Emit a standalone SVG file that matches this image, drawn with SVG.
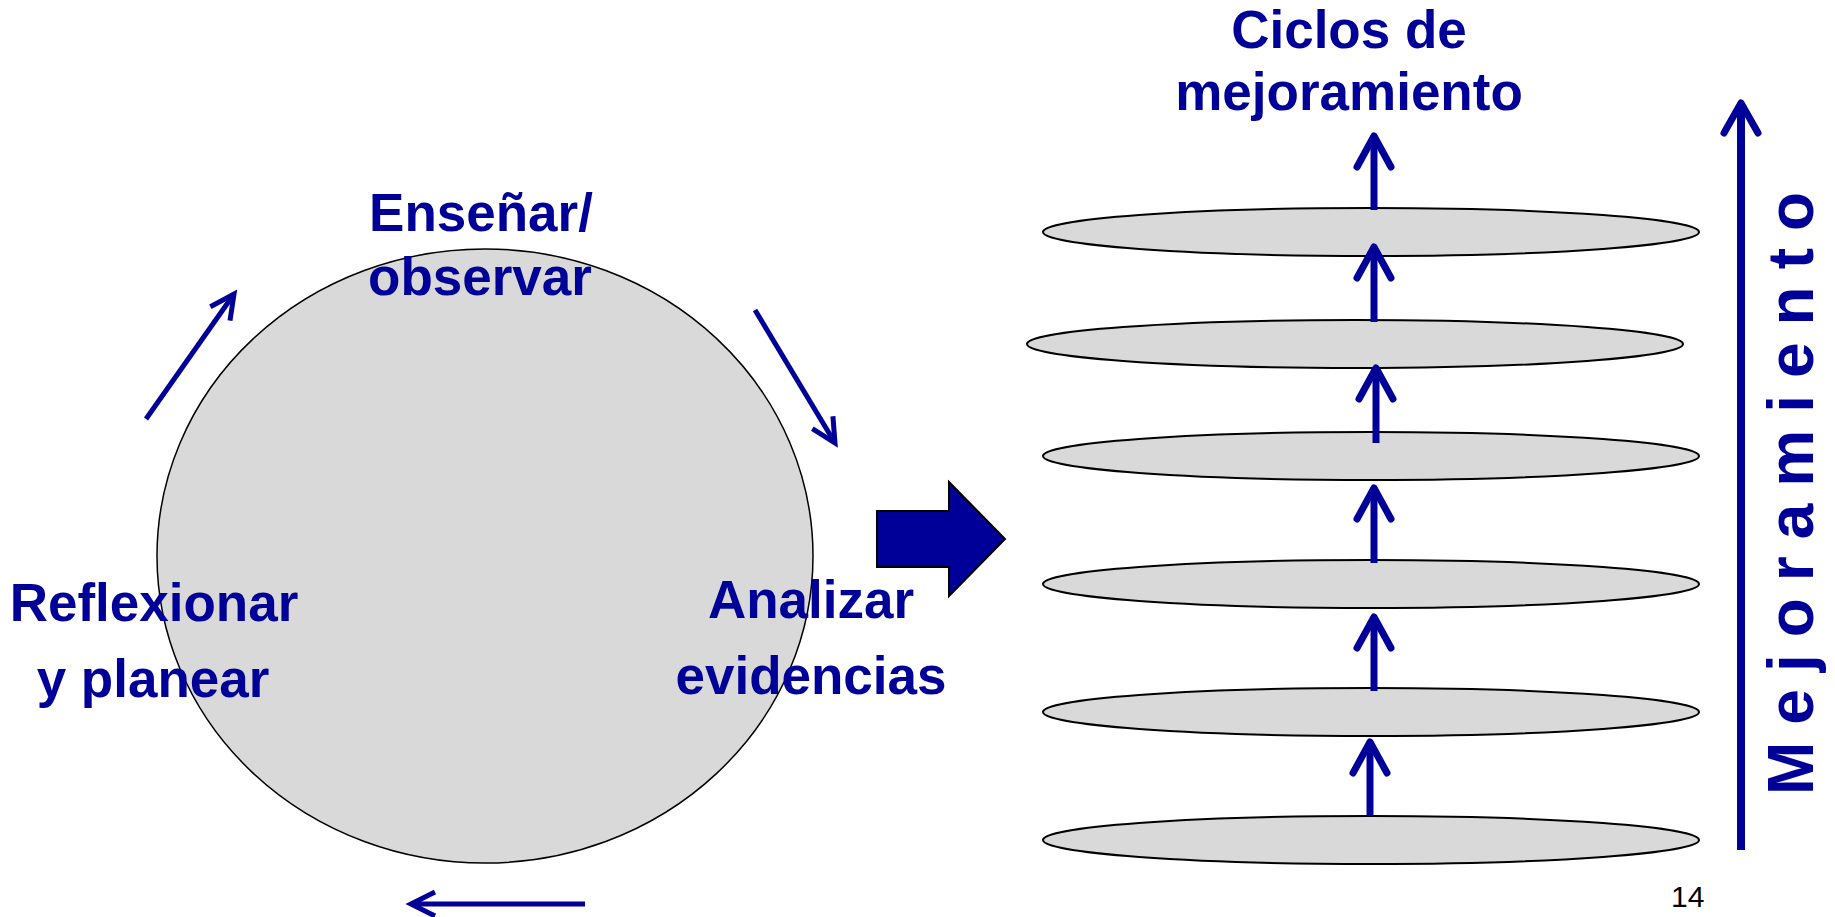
<svg xmlns="http://www.w3.org/2000/svg" width="1835" height="917" viewBox="0 0 1835 917">
<style>
.lbl{font-family:"Liberation Sans",Arial,sans-serif;font-weight:bold;font-size:53px;fill:#000099;text-anchor:middle}
.disc{fill:#d9d9d9;stroke:#000;stroke-width:2}
.thin{fill:none;stroke:#000099;stroke-width:5}
.up{fill:none;stroke:#000099;stroke-width:7}
.big{fill:none;stroke:#000099;stroke-width:8}
</style>
<defs>
<marker id="hThin" markerUnits="userSpaceOnUse" orient="auto" refX="0" refY="0" markerWidth="60" markerHeight="60" viewBox="-30 -30 60 60" overflow="visible">
<path d="M-24,-12 L0,0 L-24,12" fill="none" stroke="#000099" stroke-width="5"/>
</marker>
<marker id="hUp" markerUnits="userSpaceOnUse" orient="auto" refX="0" refY="0" markerWidth="80" markerHeight="80" viewBox="-40 -40 80 80" overflow="visible">
<path d="M-31,-17 L0,0 L-31,17" fill="none" stroke="#000099" stroke-width="7" stroke-linecap="round" stroke-linejoin="round"/>
</marker>
<marker id="hBig" markerUnits="userSpaceOnUse" orient="auto" refX="0" refY="0" markerWidth="80" markerHeight="80" viewBox="-40 -40 80 80" overflow="visible">
<path d="M-30,-17 L0,0 L-30,17" fill="none" stroke="#000099" stroke-width="7" stroke-linecap="round" stroke-linejoin="round"/>
</marker>
</defs>
<rect width="1835" height="917" fill="#fff"/>

<g id="cycle">
<ellipse cx="485" cy="556" rx="328" ry="307" fill="#d9d9d9" stroke="#000" stroke-width="1.5"/>
</g>
<g id="ensenar">
<text class="lbl" x="481" y="231">Enseñar/</text>
<text class="lbl" x="480" y="295">observar</text>
</g>
<g id="reflexionar">
<text class="lbl" x="154" y="621">Reflexionar</text>
<text class="lbl" x="153" y="697">y planear</text>
</g>
<g id="analizar">
<text class="lbl" x="811" y="618">Analizar</text>
<text class="lbl" x="811" y="694">evidencias</text>
</g>
<g id="block-arrow">
<polygon points="877,511 949,511 949,482 1005,539 949,596 949,567 877,567" fill="#000099" stroke="#000" stroke-width="2"/>
</g>
<g id="ciclos-title">
<text class="lbl" x="1349" y="48">Ciclos de</text>
<text class="lbl" x="1349" y="110">mejoramiento</text>
</g>
<g id="cycle-1"><ellipse class="disc" cx="1371" cy="232" rx="328" ry="24"/></g>
<g id="cycle-2"><ellipse class="disc" cx="1355" cy="344" rx="328" ry="24"/></g>
<g id="cycle-3"><ellipse class="disc" cx="1371" cy="456" rx="328" ry="24"/></g>
<g id="cycle-4"><ellipse class="disc" cx="1371" cy="584" rx="328" ry="24"/></g>
<g id="cycle-5"><ellipse class="disc" cx="1371" cy="712" rx="328" ry="24"/></g>
<g id="cycle-6"><ellipse class="disc" cx="1371" cy="840" rx="328" ry="24"/></g>
<g id="mejoramiento-label">
<text transform="translate(1813,795) rotate(-90)" font-family="'Liberation Sans',Arial,sans-serif" font-weight="bold" font-size="64" letter-spacing="17" fill="#000099">Mejoramiento</text>
</g>
<g id="page-number">
<text x="1671" y="907" font-family="'Liberation Sans',Arial,sans-serif" font-size="30" fill="#000">14</text>
</g>

<g id="connectors">
<line class="thin" x1="146" y1="419" x2="234" y2="294" marker-end="url(#hThin)"/>
<line class="thin" x1="755" y1="310" x2="835" y2="443" marker-end="url(#hThin)"/>
<line class="thin" x1="585" y1="904" x2="411" y2="904" marker-end="url(#hThin)"/>
<line class="up" x1="1374" y1="210" x2="1374" y2="136" marker-end="url(#hUp)"/>
<line class="up" x1="1374" y1="322" x2="1374" y2="247" marker-end="url(#hUp)"/>
<line class="up" x1="1376" y1="443" x2="1376" y2="368" marker-end="url(#hUp)"/>
<line class="up" x1="1374" y1="563" x2="1374" y2="488" marker-end="url(#hUp)"/>
<line class="up" x1="1374" y1="691" x2="1374" y2="617" marker-end="url(#hUp)"/>
<line class="up" x1="1370" y1="816" x2="1370" y2="742" marker-end="url(#hUp)"/>
<line class="big" x1="1741" y1="850" x2="1741" y2="103" marker-end="url(#hBig)"/>
</g>
</svg>
